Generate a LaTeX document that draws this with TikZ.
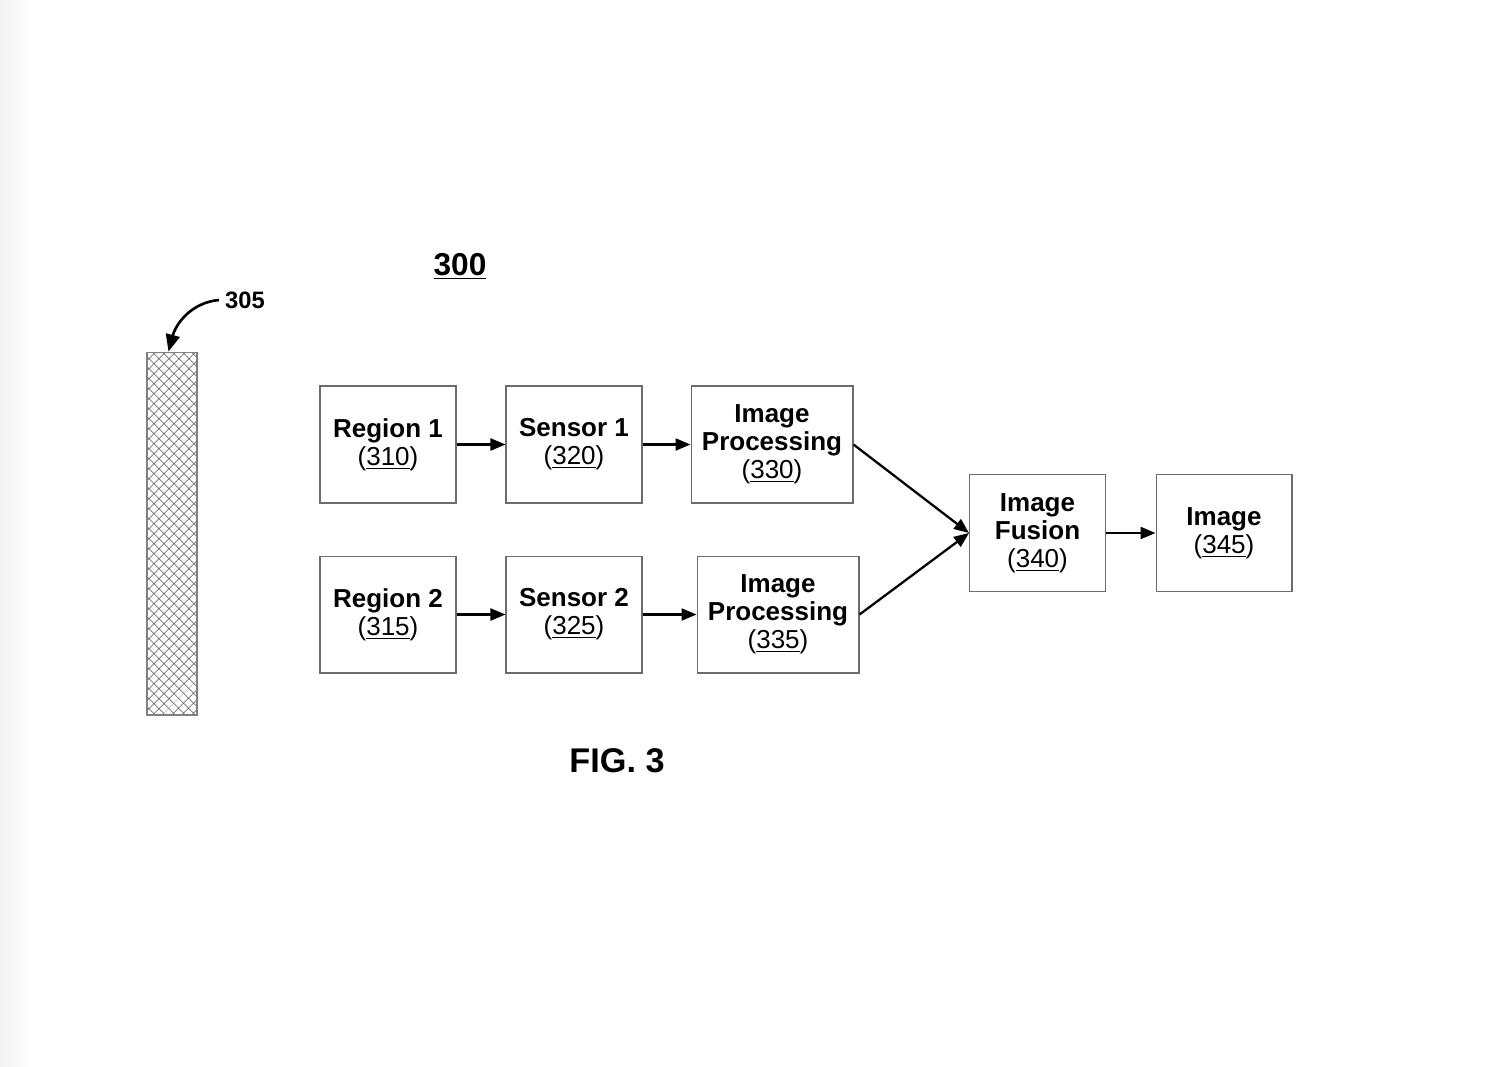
\documentclass[tikz,border=0pt]{standalone}
\usepackage{fontspec}
\setmainfont{Liberation Sans}
\usetikzlibrary{arrows.meta,patterns.meta}

\tikzset{
  blok/.style={draw=gray!85!black, line width=0.6pt, minimum width=2.72cm, minimum height=2.34cm,
    align=center, font=\fontsize{14.8}{16}\selectfont, inner sep=0pt},
  genis/.style={blok, minimum width=3.24cm},
  ok/.style={line width=1.3pt, -{Triangle[length=0.3cm, width=0.24cm]}}
}
\newcommand{\etiket}[2]{\textbf{#1}\\(\underline{#2})}

\begin{document}
\begin{tikzpicture}[x=0.02cm, y=-0.02cm]
        % Sayfa sinirlari
        \useasboundingbox (0,0) rectangle (1510,1066);
        \fill[white] (0,0) rectangle (1510,1066);
        \shade[left color=gray!10, right color=white] (0,0) rectangle (32,1066);

        % Taranmis cubuk
        \path[pattern={Lines[angle=45, distance=4pt, line width=0.4pt]}, pattern color=gray!70!black]
          (147,352) rectangle (197,715);
        \path[pattern={Lines[angle=-45, distance=4pt, line width=0.4pt]}, pattern color=gray!70!black]
          (147,352) rectangle (197,715);
        \node[draw=gray, line width=0.6pt, minimum width=1cm, minimum height=7.26cm, inner sep=0pt]
          (bar) at (172,533.5) {};
        \node[font=\fontsize{13.5}{14}\selectfont\bfseries] (n305) at (245,300) {305};
        \draw[line width=1.5pt, -{Triangle[length=0.34cm, width=0.28cm]}]
          (n305.west) to[out=185, in=75] ([xshift=-2]bar.north);

        % Baslik
        \node[font=\fontsize{18}{20}\selectfont\bfseries] (baslik) at (460,266) {\underline{300}};

        % Ust satir
        \node[blok] (reg1) at (388,444.5) {\etiket{Region 1}{310}};
        \node[blok] (sen1) at (574,444.5) {\etiket{Sensor 1}{320}};
        \node[genis] (isl1) at (772,444.5) {\textbf{Image}\\\etiket{Processing}{330}};

        % Alt satir
        \node[blok] (reg2) at (388,614.5) {\etiket{Region 2}{315}};
        \node[blok] (sen2) at (574,614.5) {\etiket{Sensor 2}{325}};
        \node[genis] (isl2) at (778,614.5) {\textbf{Image}\\\etiket{Processing}{335}};

        % Birlestirme ve cikis
        \node[blok] (fuz) at (1037.5,533) {\textbf{Image}\\\etiket{Fusion}{340}};
        \node[blok] (img) at (1224,533) {\etiket{Image}{345}};

        % Oklar
        \draw[ok] (reg1) -- (sen1);
        \draw[ok] (sen1) -- (isl1);
        \draw[ok] (reg2) -- (sen2);
        \draw[ok] (sen2) -- (isl2);
        \draw[ok] (isl1.east) -- (fuz.west);
        \draw[ok] (isl2.east) -- (fuz.west);
        \draw[ok] (fuz) -- (img);

        % Sekil adi
        \node[font=\fontsize{19.5}{21}\selectfont\bfseries] (fig) at (617,761) {FIG. 3};
    \end{tikzpicture}
\end{document}
